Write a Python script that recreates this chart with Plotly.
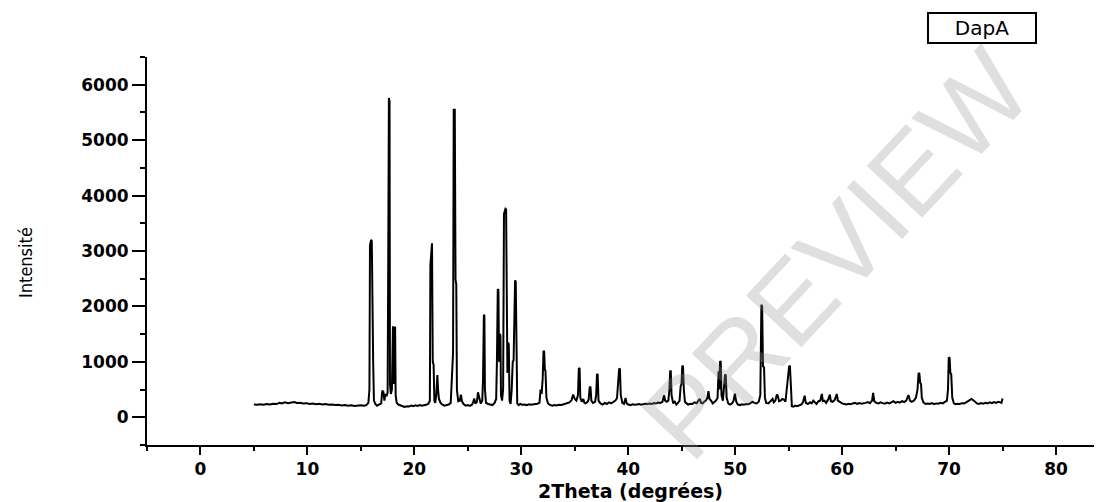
import plotly.graph_objects as go

# ---- data (2Theta in degrees, intensity in counts) ----
two_theta = [
    5.0, 5.3, 5.6, 5.9, 6.2, 6.5, 6.8, 7.1, 7.4, 7.6, 7.9, 8.2, 8.5, 8.8, 9.0, 9.3, 9.6, 9.9,
    10.2, 10.5, 10.8, 11.1, 11.4, 11.7, 12.0, 12.3, 12.6, 12.9, 13.2, 13.5, 13.8, 14.1, 14.4, 14.7,
    15.0, 15.3, 15.5, 15.7, 15.8, 15.85, 15.95, 16.02, 16.08, 16.15, 16.22, 16.35, 16.5, 16.7, 16.9,
    17.0, 17.1, 17.2, 17.3, 17.4, 17.5, 17.55, 17.62, 17.68, 17.72, 17.8, 17.9, 17.95, 18.0, 18.05,
    18.1, 18.15, 18.2, 18.25, 18.35, 18.5, 18.7, 18.9, 19.1, 19.3, 19.5, 19.7, 19.9, 20.1, 20.3,
    20.5, 20.7, 20.9, 21.1, 21.3, 21.45, 21.5, 21.58, 21.65, 21.72, 21.8, 21.87, 21.95, 22.05, 22.15,
    22.22, 22.3, 22.45, 22.6, 22.8, 23.0, 23.2, 23.4, 23.55, 23.62, 23.68, 23.78, 23.85, 23.92, 23.98,
    24.1, 24.25, 24.35, 24.45, 24.6, 24.8, 25.0, 25.2, 25.4, 25.5, 25.6, 25.7, 25.85, 25.95, 26.05,
    26.2, 26.35, 26.42, 26.5, 26.55, 26.6, 26.7, 26.9, 27.1, 27.3, 27.5, 27.65, 27.72, 27.8, 27.86,
    27.92, 27.98, 28.05, 28.1, 28.2, 28.3, 28.38, 28.45, 28.52, 28.58, 28.63, 28.7, 28.78, 28.83,
    28.9, 29.0, 29.1, 29.2, 29.28, 29.35, 29.42, 29.48, 29.55, 29.62, 29.75, 29.9, 30.1, 30.3, 30.5,
    30.7, 30.9, 31.1, 31.3, 31.5, 31.7, 31.8, 31.9, 32.0, 32.08, 32.14, 32.2, 32.26, 32.35, 32.5,
    32.7, 32.9, 33.1, 33.3, 33.5, 33.7, 33.9, 34.1, 34.3, 34.5, 34.7, 34.85, 35.0, 35.15, 35.3,
    35.38, 35.45, 35.52, 35.65, 35.8, 35.9, 36.0, 36.2, 36.3, 36.4, 36.47, 36.55, 36.7, 36.9, 37.0,
    37.08, 37.14, 37.22, 37.4, 37.6, 37.8, 38.0, 38.2, 38.4, 38.6, 38.8, 38.95, 39.05, 39.15, 39.22,
    39.3, 39.45, 39.6, 39.75, 39.85, 40.0, 40.2, 40.4, 40.6, 40.8, 41.0, 41.2, 41.4, 41.6, 41.8,
    42.0, 42.2, 42.4, 42.6, 42.8, 43.0, 43.2, 43.35, 43.45, 43.6, 43.75, 43.85, 43.92, 43.98, 44.05,
    44.2, 44.35, 44.5, 44.65, 44.8, 44.9, 44.98, 45.05, 45.12, 45.2, 45.3, 45.45, 45.6, 45.8, 46.0,
    46.2, 46.4, 46.55, 46.7, 46.8, 46.95, 47.1, 47.25, 47.4, 47.5, 47.6, 47.75, 47.9, 48.05, 48.2,
    48.35, 48.45, 48.52, 48.58, 48.65, 48.72, 48.85, 48.95, 49.05, 49.12, 49.2, 49.35, 49.5, 49.7,
    49.85, 49.97, 50.1, 50.25, 50.45, 50.6, 50.8, 51.0, 51.2, 51.4, 51.6, 51.8, 52.0, 52.2, 52.35,
    52.45, 52.52, 52.6, 52.7, 52.78, 52.9, 53.1, 53.25, 53.4, 53.5, 53.6, 53.75, 53.9, 54.0, 54.1,
    54.25, 54.4, 54.55, 54.7, 54.85, 54.95, 55.05, 55.12, 55.2, 55.3, 55.45, 55.6, 55.8, 56.0, 56.2,
    56.35, 56.5, 56.6, 56.8, 57.0, 57.15, 57.3, 57.45, 57.6, 57.8, 57.95, 58.1, 58.2, 58.35, 58.5,
    58.7, 58.85, 58.95, 59.1, 59.3, 59.5, 59.6, 59.8, 60.0, 60.2, 60.4, 60.6, 60.8, 61.0, 61.2,
    61.4, 61.6, 61.8, 62.0, 62.2, 62.4, 62.6, 62.8, 62.9, 63.0, 63.2, 63.4, 63.6, 63.8, 64.0,
    64.2, 64.4, 64.6, 64.8, 65.0, 65.2, 65.4, 65.6, 65.8, 66.0, 66.2, 66.35, 66.5, 66.7, 66.9,
    67.05, 67.15, 67.22, 67.3, 67.38, 67.45, 67.6, 67.8, 68.0, 68.2, 68.4, 68.6, 68.8, 69.0, 69.2,
    69.4, 69.6, 69.8, 69.9, 69.97, 70.05, 70.12, 70.2, 70.3, 70.45, 70.6, 70.8, 71.0, 71.2, 71.4,
    71.6, 71.8, 72.0, 72.1, 72.25, 72.4, 72.6, 72.8, 73.0, 73.2, 73.4, 73.6, 73.8, 74.0, 74.2,
    74.4, 74.6, 74.8, 74.9, 75.0,
]

intensity = [
    230, 225, 235, 228, 240, 232, 245, 238, 262, 250, 270, 255, 265, 275, 258, 262, 248, 255,
    240, 248, 236, 242, 230, 238, 225, 232, 220, 228, 215, 222, 210, 218, 205, 212,
    215, 208, 220, 260, 500, 3100, 3200, 3180, 1000, 980, 300, 240, 210, 230, 250,
    480, 460, 300, 420, 380, 450, 2450, 5760, 5700, 600, 420, 500, 1620, 1640, 600,
    1000, 1630, 1620, 400, 260, 230, 210, 200, 185, 200, 195, 210, 200, 215, 205,
    220, 210, 215, 225, 240, 300, 2750, 3130, 3140, 1000, 950, 300, 260, 400, 760,
    500, 330, 260, 230, 210, 215, 230, 260, 1100, 1170, 5550, 5550, 2480, 2400, 500,
    290, 300, 410, 290, 240, 210, 220, 205, 230, 280, 340, 250, 280, 450, 350,
    250, 300, 680, 1850, 1830, 500, 260, 240, 230, 220, 260, 330, 1000, 2310, 2300,
    1000, 1500, 1480, 400, 300, 500, 3670, 3700, 3760, 3750, 2200, 800, 1350, 1300,
    300, 240, 500, 1000, 1030, 2000, 2470, 2450, 400, 250, 220, 240, 225, 230, 220,
    235, 225, 230, 240, 245, 260, 500, 420, 700, 1200, 1180, 860, 840, 350, 250,
    220, 210, 220, 215, 225, 220, 230, 240, 250, 270, 310, 410, 330, 300, 400,
    890, 880, 350, 280, 330, 260, 250, 280, 320, 550, 540, 300, 260, 280, 400,
    780, 770, 300, 250, 230, 260, 240, 270, 250, 280, 300, 350, 680, 870, 880,
    400, 260, 240, 350, 250, 230, 220, 235, 225, 230, 240, 228, 235, 245, 238,
    250, 242, 255, 248, 265, 258, 280, 400, 300, 280, 300, 500, 840, 830, 400,
    250, 280, 230, 260, 300, 560, 600, 930, 920, 500, 280, 250, 230, 245, 240,
    270, 255, 300, 330, 260, 250, 280, 300, 350, 470, 330, 300, 250, 270, 300,
    350, 830, 500, 1010, 1000, 400, 300, 500, 770, 760, 350, 250, 230, 250,
    300, 425, 280, 230, 220, 235, 225, 240, 235, 250, 280, 260, 250, 280, 400,
    2030, 2000, 920, 900, 350, 260, 250, 280, 300, 330, 270, 300, 410, 380, 290,
    300, 330, 320, 280, 550, 700, 930, 920, 400, 200, 190, 210, 200, 220, 230,
    280, 390, 260, 240, 270, 250, 300, 270, 240, 290, 300, 420, 290, 300, 260,
    320, 410, 290, 280, 310, 420, 300, 270, 250, 240, 230, 245, 235, 250, 260,
    240, 255, 245, 250, 260, 275, 255, 300, 440, 290, 260, 250, 270, 255, 245,
    265, 250, 270, 290, 260, 280, 265, 290, 275, 300, 400, 300, 280, 300, 350,
    500, 800, 790, 620, 600, 350, 270, 240, 250, 240, 255, 235, 250, 245, 260,
    250, 270, 300, 500, 1080, 1070, 800, 780, 350, 250, 235, 245, 240, 255, 250,
    270, 300, 320, 330, 310, 280, 250, 240, 255, 245, 260, 250, 270, 255, 275,
    260, 280, 270, 260, 340,
]

x_tick_vals = [0, 10, 20, 30, 40, 50, 60, 70, 80]
y_tick_vals = [0, 1000, 2000, 3000, 4000, 5000, 6000]
series_name = "DapA"

# ---- figure (page body has an 8 px margin, so the figure is 8 px smaller) ----
OFF = 8
W, H = 1102 - OFF, 502 - OFF
L, R, T, B = 147 - OFF, 0, 57 - OFF, 502 - 445
pw, ph = W - L - R, H - T - B

def px_x(p):  # reference-window pixel -> paper coordinate
    return (p - OFF - L) / pw

def px_y(p):
    return (H - B - (p - OFF)) / ph

fig = go.Figure()
fig.add_trace(go.Scatter(
    x=two_theta, y=intensity, mode="lines", name=series_name,
    line=dict(color="black", width=2), showlegend=False,
))

tick_font = dict(family="DejaVu Sans", size=17, color="black", weight="bold")

fig.update_layout(
    width=W, height=H,
    margin=dict(l=L, r=R, t=T, b=B),
    paper_bgcolor="white", plot_bgcolor="white",
    xaxis=dict(
        range=[-5, 84.3], tickmode="array", tickvals=x_tick_vals,
        ticks="outside", ticklen=8, tickwidth=2, tickcolor="black",
        minor=dict(dtick=5, tick0=0, ticks="outside", ticklen=4, tickwidth=2, tickcolor="black"),
        showline=True, linewidth=2, linecolor="black",
        showgrid=False, zeroline=False, tickfont=tick_font, automargin=False,
    ),
    yaxis=dict(
        range=[-500, 6500], tickmode="array", tickvals=y_tick_vals,
        ticks="outside", ticklen=13, tickwidth=2, tickcolor="black",
        minor=dict(dtick=500, tick0=0, ticks="outside", ticklen=5, tickwidth=2, tickcolor="black"),
        showline=True, linewidth=2, linecolor="black",
        showgrid=False, zeroline=False, tickfont=tick_font, automargin=False,
    ),
    annotations=[
        dict(text="PREVIEW", xref="paper", yref="paper", x=px_x(835), y=px_y(254),
             xanchor="center", yanchor="middle",
             showarrow=False, textangle=-47,
             font=dict(family="Liberation Sans", size=110, color="rgba(150,150,150,0.30)")),
        dict(text="Intensité", xref="paper", yref="paper", x=px_x(25), y=px_y(262),
             showarrow=False, textangle=-90, xanchor="center", yanchor="middle",
             font=dict(family="DejaVu Sans Condensed", size=18, color="black")),
        dict(text="2Theta (degrées)", xref="paper", yref="paper", x=px_x(630), y=px_y(491),
             showarrow=False, xanchor="center", yanchor="middle",
             font=dict(family="DejaVu Sans", size=19, color="black", weight="bold")),
        dict(text=series_name, xref="paper", yref="paper", x=px_x(982), y=px_y(28),
             showarrow=False, xanchor="center", yanchor="middle",
             width=104, height=26, borderpad=1, bordercolor="black", borderwidth=2,
             bgcolor="white",
             font=dict(family="DejaVu Sans", size=20, color="black")),
    ],
)

fig.write_html("out.html")
